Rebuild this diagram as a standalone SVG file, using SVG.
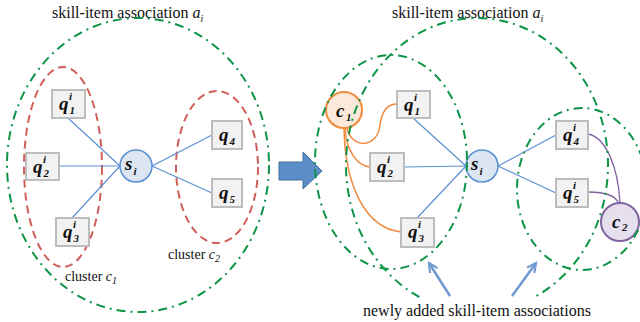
<svg xmlns="http://www.w3.org/2000/svg" width="640" height="322" viewBox="0 0 640 322">
<style>
.t{font-family:"Liberation Serif","Times New Roman",serif;fill:#111}
.lab{font-family:"Liberation Serif","Times New Roman",serif;font-weight:bold;font-style:italic;fill:#111}
.big{font-size:19px}
.sm{font-size:11px}
.box{fill:#f2f2f2;stroke:#bdbdbd;stroke-width:2}
.si{fill:#dce6f2;stroke:#5b8fd3;stroke-width:1.6}
.c1{fill:#fde9d9;stroke:#f08a3c;stroke-width:2}
.c2{fill:#e6e0ee;stroke:#8064a2;stroke-width:2}
.edge{stroke:#5b8fd3;stroke-width:1.2;fill:none}
.oedge{stroke:#f08a3c;stroke-width:1.5;fill:none}
.pedge{stroke:#7f64a0;stroke-width:1.3;fill:none}
.green{fill:none;stroke:#0d9447;stroke-width:2;stroke-dasharray:9 5 2 5}
.red{fill:none;stroke:#d05f5b;stroke-width:2;stroke-dasharray:8 5}
.note{stroke:#6f9bd1;stroke-width:2.5;fill:none}
</style>
<defs>
<marker id="open" viewBox="0 0 12 12" refX="10" refY="6" markerWidth="12" markerHeight="12" markerUnits="userSpaceOnUse" orient="auto">
<path d="M1,1.5 L10,6 L1,10.5" fill="none" stroke="#6f9bd1" stroke-width="2.2"/>
</marker>
</defs>
<rect width="640" height="322" fill="#fff"/>

<!-- titles -->
<text class="t" x="52" y="18" font-size="16">skill-item association <tspan font-style="italic">a</tspan><tspan font-style="italic" font-size="10" dy="4">i</tspan></text>
<text class="t" x="392" y="18" font-size="16">skill-item association <tspan font-style="italic">a</tspan><tspan font-style="italic" font-size="10" dy="4">i</tspan></text>

<!-- left panel regions -->
<g id="region-a-left">
<ellipse class="green" cx="138" cy="165" rx="131" ry="147"/>
</g>
<g id="cluster-c1">
<ellipse class="red" cx="63" cy="167" rx="39" ry="100"/>
<text class="t" x="65" y="281" font-size="14">cluster <tspan font-style="italic">c</tspan><tspan font-style="italic" font-size="10" dy="3">1</tspan></text>
</g>
<g id="cluster-c2">
<ellipse class="red" cx="217" cy="167" rx="41" ry="76"/>
<text class="t" x="168" y="259" font-size="14">cluster <tspan font-style="italic">c</tspan><tspan font-style="italic" font-size="10" dy="3">2</tspan></text>
</g>

<!-- connectors -->
<g id="connectors">
<line class="edge" x1="68" y1="118" x2="120" y2="166"/>
<line class="edge" x1="59" y1="166" x2="120" y2="166"/>
<line class="edge" x1="72" y1="218" x2="120" y2="166"/>
<line class="edge" x1="152" y1="166" x2="212" y2="135"/>
<line class="edge" x1="152" y1="166" x2="212" y2="193"/>

<line class="edge" x1="413" y1="118" x2="466" y2="166"/>
<line class="edge" x1="404" y1="167" x2="466" y2="166"/>
<line class="edge" x1="417" y1="218" x2="466" y2="166"/>
<line class="edge" x1="498" y1="166" x2="556" y2="135"/>
<line class="edge" x1="498" y1="166" x2="556" y2="193"/>

<path class="oedge" d="M347,128 C351,148 377,150 380,125 C382,110 388,104 397,104"/>
<path class="oedge" d="M345,128 C346,150 357,166 370,167"/>
<path class="oedge" d="M344,128 C345,185 365,228 401,232"/>

<path class="pedge" d="M588,134 C605,137 618,165 620,203"/>
<path class="pedge" d="M588,192 C605,192 616,195 619,204"/>

<line class="note" x1="450" y1="296" x2="429" y2="263" marker-end="url(#open)"/>
<line class="note" x1="512" y1="296" x2="536" y2="263" marker-end="url(#open)"/>
</g>

<!-- left nodes -->
<g id="q1-left"><rect class="box" x="52" y="90" width="33" height="28"/>
<text class="lab"><tspan class="big" x="59" y="110">q</tspan><tspan class="sm" x="69" y="100">i</tspan><tspan class="sm" x="69.5" y="114">1</tspan></text></g>
<g id="q2-left"><rect class="box" x="26" y="153" width="33" height="27"/>
<text class="lab"><tspan class="big" x="33" y="173">q</tspan><tspan class="sm" x="43" y="163">i</tspan><tspan class="sm" x="43.5" y="177">2</tspan></text></g>
<g id="q3-left"><rect class="box" x="56" y="218" width="33" height="28"/>
<text class="lab"><tspan class="big" x="63" y="238">q</tspan><tspan class="sm" x="73" y="228">i</tspan><tspan class="sm" x="73.5" y="242">3</tspan></text></g>
<g id="q4-left"><rect class="box" x="212" y="121" width="30" height="28"/>
<text class="lab"><tspan class="big" x="219" y="141">q</tspan><tspan class="sm" x="229.5" y="145">4</tspan></text></g>
<g id="q5-left"><rect class="box" x="212" y="179" width="30" height="28"/>
<text class="lab"><tspan class="big" x="219" y="199">q</tspan><tspan class="sm" x="229.5" y="203">5</tspan></text></g>
<g id="si-left"><circle class="si" cx="136" cy="166" r="16"/>
<text class="lab"><tspan class="big" x="125" y="170">s</tspan><tspan class="sm" x="133.5" y="175">i</tspan></text></g>

<!-- transition arrow -->
<g id="transition-arrow">
<polygon points="279,162 303,162 303,152 322,171 303,189 303,180 279,180" fill="#5b8ec9" stroke="#41719c" stroke-width="1"/>
</g>

<!-- right nodes -->
<g id="q1-right"><rect class="box" x="397" y="91" width="33" height="27"/>
<text class="lab"><tspan class="big" x="404" y="111">q</tspan><tspan class="sm" x="414" y="101">i</tspan><tspan class="sm" x="414.5" y="115">1</tspan></text></g>
<g id="q2-right"><rect class="box" x="370" y="153" width="34" height="28"/>
<text class="lab"><tspan class="big" x="377" y="173">q</tspan><tspan class="sm" x="387" y="163">i</tspan><tspan class="sm" x="387.5" y="177">2</tspan></text></g>
<g id="q3-right"><rect class="box" x="401" y="218" width="33" height="29"/>
<text class="lab"><tspan class="big" x="408" y="238">q</tspan><tspan class="sm" x="418" y="228">i</tspan><tspan class="sm" x="418.5" y="242">3</tspan></text></g>
<g id="q4-right"><rect class="box" x="556" y="121" width="32" height="28"/>
<text class="lab"><tspan class="big" x="563" y="141">q</tspan><tspan class="sm" x="573" y="131">i</tspan><tspan class="sm" x="573.5" y="145">4</tspan></text></g>
<g id="q5-right"><rect class="box" x="556" y="179" width="32" height="28"/>
<text class="lab"><tspan class="big" x="563" y="199">q</tspan><tspan class="sm" x="573" y="189">i</tspan><tspan class="sm" x="573.5" y="203">5</tspan></text></g>
<g id="si-right"><circle class="si" cx="482" cy="166" r="16"/>
<text class="lab"><tspan class="big" x="471" y="170">s</tspan><tspan class="sm" x="479.5" y="175">i</tspan></text></g>
<g id="c1-right"><circle class="c1" cx="344" cy="110" r="18"/>
<text class="lab"><tspan class="big" x="336" y="117">c</tspan><tspan class="sm" x="346" y="121">1</tspan></text></g>
<g id="c2-right"><circle class="c2" cx="620" cy="222" r="19"/>
<text class="lab"><tspan class="big" x="612" y="228">c</tspan><tspan class="sm" x="622" y="231">2</tspan></text></g>

<!-- right panel association regions -->
<g id="region-a-right">
<path class="green" d="M419.3,297 A131,147 0 1 1 534.7,297"/>
</g>
<g id="region-new-c1">
<ellipse class="green" cx="391" cy="162" rx="76" ry="107"/>
</g>
<g id="region-new-c2">
<ellipse class="green" cx="582" cy="189" rx="65" ry="81"/>
</g>

<text class="t" x="363" y="316" font-size="16">newly added skill-item associations</text>
</svg>
